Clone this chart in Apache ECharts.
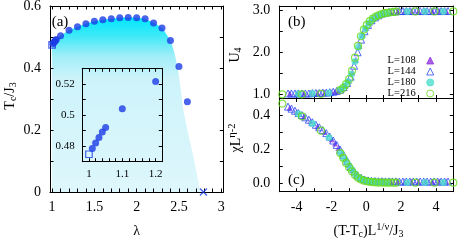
<!DOCTYPE html>
<html><head><meta charset="utf-8">
<script src="https://cdn.jsdelivr.net/npm/echarts@6/dist/echarts.min.js"></script>
<style>html,body{margin:0;padding:0;background:#fff}#c{width:458px;height:243px}</style>
</head><body><div id="c"></div>
<script>
// ---------- panel (a): Tc/J3 vs lambda ----------
const lambdaVals = [1.01,1.02,1.03,1.04,1.05,1.1,1.2,1.3,1.4,1.5,1.6,1.7,1.8,1.9,2.0,2.1,2.2,2.3,2.4,2.5,2.6];
const tcVals     = [0.4785,0.482,0.4855,0.489,0.492,0.504,0.5215,0.533,0.543,0.551,0.556,0.559,0.562,0.563,0.562,0.559,0.545,0.529,0.489,0.405,0.291];
const squareLambda = [1.0];
const squareTc     = [0.4748];
const crossLambda  = [2.79];
const crossTc      = [0];
// shaded region boundary
const shadeLambda = [1.0,1.05,1.1,1.2,1.3,1.4,1.5,1.6,1.7,1.8,1.9,2.0,2.1,2.2,2.3,2.35,2.4,2.45,2.5,2.55,2.6,2.65,2.7,2.755];
const shadeTc     = [0.475,0.492,0.504,0.521,0.533,0.543,0.551,0.556,0.559,0.562,0.563,0.562,0.558,0.546,0.528,0.51,0.487,0.445,0.375,0.27,0.2,0.14,0.075,0.0];

// ---------- panels (b),(c): scaling collapse ----------
const x108 = [-4.4,-4.0,-3.6,-3.2,-2.8,-2.4,-2.0,-1.8,-1.6,-1.4,-1.2,-1.0,-0.8,-0.6,-0.4,-0.2,0.0,0.2,0.4,0.6,0.8,1.0,1.4,1.8,2.2,2.6,3.0,3.4,3.8,4.2,4.6];
const u108 = [1.02,1.02,1.02,1.03,1.03,1.04,1.05,1.06,1.08,1.12,1.2,1.32,1.52,1.82,2.15,2.42,2.58,2.7,2.79,2.85,2.89,2.92,2.95,2.97,2.975,2.98,2.98,2.98,2.98,2.98,2.98];
const c108 = [0.445,0.42,0.393,0.366,0.336,0.302,0.26,0.235,0.208,0.176,0.142,0.108,0.078,0.052,0.035,0.024,0.018,0.015,0.013,0.012,0.012,0.011,0.011,0.01,0.01,0.01,0.01,0.01,0.01,0.01,0.01];

const x144 = [-4.5,-4.3,-4.1,-3.9,-3.7,-3.5,-3.3,-3.1,-2.9,-2.7,-2.5,-2.3,-2.1,-1.9,-1.7,-1.5,-1.3,-1.1,-0.9,-0.7,-0.5,-0.3,-0.1,0.1,0.3,0.5,0.7,0.9,1.1,1.3,1.5,1.7,1.9,2.1,2.3,2.5,2.7,2.9,3.1,3.3,3.5,3.7,3.9,4.1,4.3,4.5,4.7];
const u144 = [1.02,1.02,1.02,1.02,1.02,1.02,1.02,1.03,1.03,1.03,1.04,1.04,1.05,1.06,1.08,1.11,1.17,1.27,1.42,1.68,2.0,2.3,2.5,2.65,2.76,2.83,2.88,2.92,2.94,2.96,2.97,2.975,2.98,2.98,2.98,2.98,2.98,2.98,2.98,2.98,2.98,2.98,2.98,2.98,2.98,2.98,2.98];
const c144 = [0.452,0.44,0.428,0.414,0.402,0.389,0.375,0.36,0.345,0.33,0.314,0.296,0.275,0.252,0.226,0.198,0.166,0.132,0.098,0.07,0.047,0.032,0.022,0.017,0.014,0.013,0.012,0.012,0.011,0.011,0.011,0.011,0.01,0.01,0.01,0.01,0.01,0.01,0.01,0.01,0.01,0.01,0.01,0.01,0.01,0.01,0.01];

const x180 = [-3.9,-3.1,-2.15,-1.45,-1.25,-1.05,-0.85,-0.65,-0.45,-0.25,-0.05,0.15,0.4,0.65,0.9,1.2,2.35,3.37,4.43];
const u180 = [1.01,1.02,1.03,1.12,1.19,1.3,1.48,1.78,2.12,2.38,2.56,2.69,2.79,2.86,2.9,2.93,2.97,2.97,2.97];
const c180 = [0.41,0.352,0.27,0.175,0.142,0.11,0.082,0.056,0.036,0.024,0.016,0.012,0.009,0.007,0.006,0.005,0.005,0.005,0.005];

const x216 = [-4.83,-3.7,-2.6,-1.5,-1.33,-1.16,-0.99,-0.82,-0.65,-0.48,-0.31,-0.14,0.03,0.2,0.37,0.54,0.71,0.88,1.05,1.22,1.39,1.56,1.73,2.82,3.92,5.0];
const u216 = [1.0,1.0,1.01,1.1,1.15,1.24,1.36,1.56,1.87,2.15,2.38,2.54,2.65,2.74,2.8,2.85,2.88,2.91,2.93,2.94,2.95,2.96,2.965,2.97,2.97,2.97];
const c216 = [0.47,0.395,0.31,0.178,0.15,0.12,0.095,0.07,0.048,0.032,0.022,0.015,0.011,0.008,0.006,0.005,0.004,0.004,0.003,0.003,0.003,0.003,0.003,0.003,0.003,0.003];

const seriesNames = ['L=108','L=144','L=180','L=216'];

// ---------- ticks & labels ----------
const aXTicks  = [1,1.1,1.2,1.3,1.4,1.5,1.6,1.7,1.8,1.9,2,2.1,2.2,2.3,2.4,2.5,2.6,2.7,2.8,2.9,3];
const aXLabels = [1,1.5,2,2.5,3];
const aYTicks  = [0,0.1,0.2,0.3,0.4,0.5,0.6];
const aYLabels = [0,0.2,0.4,0.6];
const inXTicks  = [0.98,1.0,1.02,1.04,1.06,1.08,1.1,1.12,1.14,1.16,1.18,1.2,1.22];
const inXLabels = [1,1.1,1.2];
const inYTicks  = [0.48,0.49,0.5,0.51,0.52];
const inYLabels = [0.48,0.5,0.52];
const bcXTicks  = [-5,-4,-3,-2,-1,0,1,2,3,4,5];
const cXLabels  = [-4,-2,0,2,4];
const bYTicks   = [1,1.5,2,2.5,3];
const bYLabels  = [1,2,3];
const cYTicks   = [0,0.1,0.2,0.3,0.4];
const cYLabels  = [0,0.2,0.4];

const F = 'Liberation Serif';
const BLUE = '#1d3ce6';
const COLORS = {
  'L=108': '#9436e0', 'L=144': '#2a48f2', 'L=180': '#4de0cc', 'L=216': '#66dd1a'
};

const pairs = (xs, ys) => xs.map((x, i) => [x, ys[i]]);

function mkAxis(grid, pos, min, max, ticks, labels, fmt, fs, margin) {
  return {
    type: 'value', gridIndex: grid, position: pos, min: min, max: max, z: 5,
    axisLine: { show: true, onZero: false, lineStyle: { color: '#000', width: 1 } },
    axisTick: { show: true, inside: true, length: 3.5, customValues: ticks, lineStyle: { color: '#000', width: 1 } },
    axisLabel: labels ? { show: true, customValues: labels, formatter: fmt, margin: margin, color: '#000', fontFamily: F, fontSize: fs } : { show: false },
    splitLine: { show: false }, minorTick: { show: false }, minorSplitLine: { show: false }
  };
}
const S = v => String(v);
const F1 = v => v.toFixed(1);

const grids = [
  { left: 50, top: 6, width: 173.3, height: 186 },
  { left: 82.3, top: 68.3, width: 80, height: 93.4 },
  { left: 279.3, top: 6, width: 174, height: 92.5 },
  { left: 279.3, top: 98.5, width: 174, height: 93.2 }
].map(g => Object.assign({ show: false, containLabel: false, outerBoundsMode: 'none' }, g));

const xAxes = [
  mkAxis(0, 'bottom', 0.975, 3.025, aXTicks, aXLabels, S, 14, 8),
  mkAxis(0, 'top', 0.975, 3.025, aXTicks, null),
  mkAxis(1, 'bottom', 0.98, 1.22, inXTicks, inXLabels, S, 11, 7),
  mkAxis(1, 'top', 0.98, 1.22, inXTicks, null),
  mkAxis(2, 'bottom', -5, 5, bcXTicks, null),
  mkAxis(2, 'top', -5, 5, bcXTicks, null),
  mkAxis(3, 'bottom', -5, 5, bcXTicks, cXLabels, S, 14, 9),
  mkAxis(3, 'top', -5, 5, bcXTicks, null)
];
const yAxes = [
  mkAxis(0, 'left', 0, 0.6, aYTicks, aYLabels, S, 14, 9),
  mkAxis(0, 'right', 0, 0.6, aYTicks, null),
  mkAxis(1, 'left', 0.47, 0.53, inYTicks, inYLabels, S, 11, 7.5),
  mkAxis(1, 'right', 0.47, 0.53, inYTicks, null),
  mkAxis(2, 'left', 0.9, 3.1, bYTicks, bYLabels, F1, 14, 9),
  mkAxis(2, 'right', 0.9, 3.1, bYTicks, null),
  mkAxis(3, 'left', -0.05, 0.5, cYTicks, cYLabels, F1, 14, 9),
  mkAxis(3, 'right', -0.05, 0.5, cYTicks, null)
];

const series = [];
// shading
series.push({
  type: 'line', xAxisIndex: 0, yAxisIndex: 0, data: pairs(shadeLambda, shadeTc),
  smooth: 0.3, symbol: 'none', silent: true, z: 1,
  lineStyle: { width: 0, opacity: 0 },
  areaStyle: { opacity: 1, color: { type: 'linear', x: 0, y: 0, x2: 0, y2: 1, colorStops: [
    { offset: 0, color: '#00e8fb' }, { offset: 0.1, color: '#3ae9f8' }, { offset: 0.22, color: '#a0eef8' },
    { offset: 0.35, color: '#cdf3fa' }, { offset: 1, color: '#def7fc' } ] } }
});
const crossPath = 'path://M0,0L10,10M10,0L0,10';
function panelA(xi, yi, filter) {
  const keep = p => !filter || (p[0] <= 1.22);
  series.push({ type: 'scatter', xAxisIndex: xi, yAxisIndex: yi, data: pairs(lambdaVals, tcVals).filter(keep),
    symbol: 'circle', symbolSize: 7, itemStyle: { color: BLUE }, z: 6, silent: true });
  series.push({ type: 'scatter', xAxisIndex: xi, yAxisIndex: yi, data: pairs(squareLambda, squareTc),
    symbol: 'rect', symbolSize: 6.5, itemStyle: { color: 'rgba(0,0,0,0)', borderColor: BLUE, borderWidth: 1.2 }, z: 6, silent: true });
  if (!filter) series.push({ type: 'scatter', xAxisIndex: xi, yAxisIndex: yi, data: pairs(crossLambda, crossTc),
    symbol: crossPath, symbolSize: 7, itemStyle: { color: BLUE, borderColor: BLUE, borderWidth: 1.4 }, z: 6, silent: true, clip: false });
}
panelA(0, 0, false);
panelA(2, 2, true);

const style = {
  'L=108': { symbol: 'triangle', size: 6, it: { color: COLORS['L=108'], borderColor: COLORS['L=108'], borderWidth: 0 } },
  'L=144': { symbol: 'triangle', size: 7, it: { color: 'rgba(0,0,0,0)', borderColor: COLORS['L=144'], borderWidth: 1 } },
  'L=180': { symbol: 'circle', size: 7, it: { color: COLORS['L=180'], borderColor: COLORS['L=180'], borderWidth: 0 } },
  'L=216': { symbol: 'circle', size: 7, it: { color: 'rgba(0,0,0,0)', borderColor: COLORS['L=216'], borderWidth: 1.2 } }
};
const dataB = { 'L=108': pairs(x108, u108), 'L=144': pairs(x144, u144), 'L=180': pairs(x180, u180), 'L=216': pairs(x216, u216) };
const dataC = { 'L=108': pairs(x108, c108), 'L=144': pairs(x144, c144), 'L=180': pairs(x180, c180), 'L=216': pairs(x216, c216) };
seriesNames.forEach((n, k) => {
  const s = style[n];
  series.push({ name: n, type: 'scatter', xAxisIndex: 4, yAxisIndex: 4, data: dataB[n], symbol: s.symbol, symbolSize: s.size, symbolKeepAspect: true, itemStyle: s.it, z: 6 + k, silent: true });
  series.push({ name: n, type: 'scatter', xAxisIndex: 6, yAxisIndex: 6, data: dataC[n], symbol: s.symbol, symbolSize: s.size, symbolKeepAspect: true, itemStyle: s.it, z: 6 + k, silent: true });
});

const n = { fontFamily: F, fontSize: 14 };
const sub = { fontFamily: F, fontSize: 10, padding: [7, 0, 0, 0] };
const sup = { fontFamily: F, fontSize: 10.5, padding: [0, 0, 8, 0] };
function txt(x, y, text, rot, fs) {
  return { type: 'text', x: x, y: y, rotation: rot || 0, z: 10,
    style: { text: text, fill: '#000', fontFamily: F, fontSize: fs || 14, align: 'center', verticalAlign: 'middle',
      rich: { n: n, s: sub, p: sup } } };
}

const chart = echarts.init(document.getElementById('c'), null, { renderer: 'canvas' });
chart.setOption({
  animation: false,
  backgroundColor: '#fff',
  grid: grids,
  xAxis: xAxes,
  yAxis: yAxes,
  legend: {
    orient: 'vertical', right: 23.8, top: 55, align: 'right', selectedMode: false,
    itemWidth: 7, itemHeight: 7, itemGap: 0, padding: 0, symbolKeepAspect: true,
    itemStyle: { borderWidth: 1 },
    textStyle: { fontFamily: F, fontSize: 10.5, lineHeight: 9.7, color: '#000', padding: [0, 6, 0, 0] },
    data: seriesNames
  },
  series: series,
  graphic: [
    txt(60, 21.7, '(a)', 0, 15),
    txt(296.7, 21.7, '(b)', 0, 15),
    txt(296.3, 180, '(c)', 0, 15),
    txt(136.7, 231.7, 'λ'),
    txt(10, 96, '{n|T}{s|c}{n|/J}{s|3}', Math.PI / 2),
    txt(235, 55, '{n|U}{s|4}', Math.PI / 2),
    txt(236, 138, '{n|χL}{p|η-2}', Math.PI / 2),
    txt(368.5, 231, '{n|(T-T}{s|c}{n|)L}{p|1/ν}{n|/J}{s|3}')
  ]
});
</script>
</body></html>
